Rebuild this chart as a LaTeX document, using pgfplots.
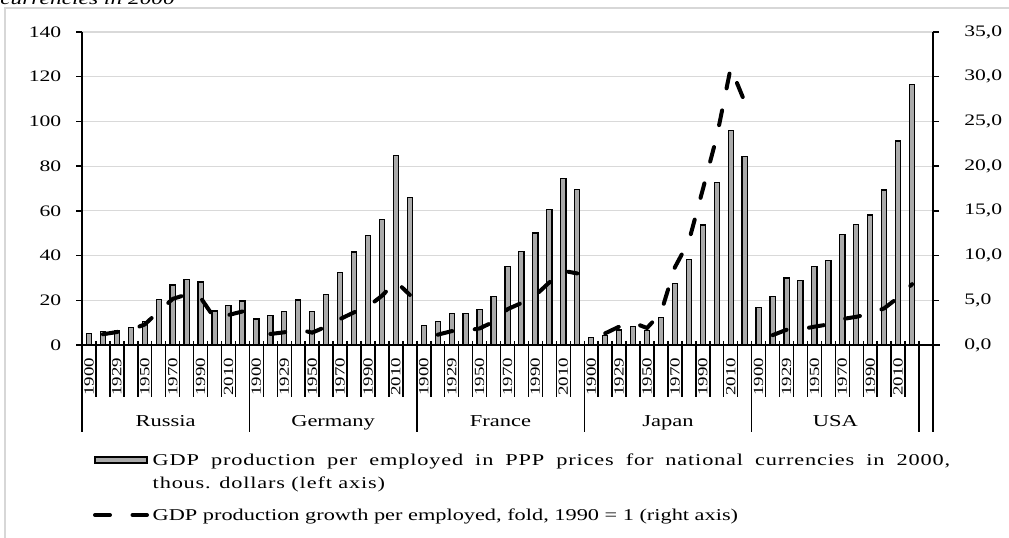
\documentclass[border=0pt]{standalone}
\usepackage{fontspec}
\setmainfont{Liberation Serif}[FakeStretch=1.35]
\usepackage{pgfplots}
\usepackage{pgfplotstable}
\pgfplotsset{compat=1.18}
\definecolor{barfill}{RGB}{170,170,170}
\definecolor{gridgray}{RGB}{217,217,217}
\definecolor{framegray}{RGB}{215,215,215}

\pgfplotstableread{
x y
0 5.2
1 5.9
2 6.6
3 7.9
4 10.6
5 20.5
6 26.8
7 29.4
8 28.2
9 15.2
10 17.7
11 19.7
12 11.6
13 13.1
14 14.9
15 20.1
16 14.9
17 22.5
18 32.5
19 41.6
20 49.0
21 56.0
22 84.9
23 65.8
24 8.7
25 10.4
26 14.2
27 14.2
28 15.7
29 21.6
30 35.2
31 41.8
32 50.1
33 60.7
34 74.5
35 69.7
36 3.3
37 4.4
38 6.7
39 8.2
40 6.4
41 12.2
42 27.6
43 38.1
44 53.7
45 72.7
46 95.8
47 84.3
48 16.6
49 21.6
50 30.0
51 28.7
52 35.2
53 37.9
54 49.3
55 53.9
56 58.1
57 69.3
58 91.2
59 116.4
}\bartable

\pgfplotstableread{
x y
1 1.2
2 1.45
3 1.7
4 2.3
5 3.75
6 5.15
7 5.65
8 5.3
9 3.0
10 3.35
11 3.75
}\lineRU
\pgfplotstableread{
x y
13 1.23
14 1.42
15 1.75
16 1.38
17 2.05
18 2.9
19 3.65
20 4.3
21 5.5
22 7.1
23 5.6
}\lineDE
\pgfplotstableread{
x y
25 1.15
26 1.55
27 1.6
28 1.85
29 2.6
30 4.0
31 4.7
32 5.55
33 7.0
34 8.3
35 8.0
}\lineFR
\pgfplotstableread{
x y
37 1.3
38 2.05
39 2.5
40 1.9
41 3.6
42 8.7
43 11.6
44 17.4
45 23.3
46 31.0
47 27.2
}\lineJP
\pgfplotstableread{
x y
49 1.1
50 1.7
51 1.75
52 2.05
53 2.3
54 2.9
55 3.15
56 3.5
57 4.1
58 5.3
59 6.8
}\lineUS

\newcommand{\tickfont}{\fontsize{12}{14}\selectfont}
\newcommand{\legfont}{\fontsize{12.4}{14}\selectfont}
\newcommand{\yearfont}{\fontsize{10.5}{12}\selectfont}
\newcommand{\ctryfont}{\fontsize{12.5}{14}\selectfont}

\tikzset{dashline/.style={black, line width=3pt, line cap=round, dash pattern=on 11.25pt off 16.9pt}}

\pgfplotsset{
  base/.style={
    at={(61.5pt,144.75pt)}, anchor=south west,
    scale only axis, width=638.25pt, height=234.75pt,
    xmin=-0.5, xmax=60.5, xtick=\empty,
    axis x line=none,
    tick align=outside, major tick length=4.5pt,
    axis line style={line width=1.1pt, black},
    every tick/.style={line width=1.1pt, black},
    tick label style={font=\tickfont},
    /pgf/number format/assume math mode=true,
    clip=false,
  },
}

\begin{document}
\begin{tikzpicture}
\useasboundingbox (0,0) rectangle (756.75pt,403.5pt);

\begin{scope}[x=0.75pt,y=-0.75pt,shift={(0,403.5pt)}]
  \draw[framegray, line width=1pt] (5,550) -- (5,8) -- (1020,8);
  \node[anchor=base west, inner sep=0, font=\itshape\fontsize{13}{15}\selectfont] at (0,5) {currencies in 2000};
\end{scope}

\begin{axis}[base,
  ymin=0, ymax=140, ytick={0,20,...,140},
  axis y line*=left,
  ymajorgrids, grid style={gridgray, line width=0.9pt},
  ybar, bar width=3.9pt,
  yticklabel style={xshift=-7.5pt},
]
\addplot[ybar, fill=barfill, draw=black, line width=0.9pt, bar width=3.9pt] table[x=x,y=y] {\bartable};
\end{axis}

\begin{axis}[base,
  ymin=0, ymax=35, ytick={0,5,...,35},
  axis y line*=right,
  yticklabel style={xshift=15.5pt, /pgf/number format/fixed, /pgf/number format/fixed zerofill, /pgf/number format/precision=1, /pgf/number format/use comma},
]
\addplot[dashline] table[x=x,y=y] {\lineRU};
\addplot[dashline] table[x=x,y=y] {\lineDE};
\addplot[dashline] table[x=x,y=y] {\lineFR};
\addplot[dashline] table[x=x,y=y] {\lineJP};
\addplot[dashline] table[x=x,y=y] {\lineUS};
\end{axis}

\begin{scope}[x=0.75pt,y=-0.75pt,shift={(0,403.5pt)}, line width=1.1pt]
  \draw (82,345) -- (940,345);
  \foreach \k in {0,...,60} {
    \pgfmathsetmacro\xx{82+13.9508*\k}
    \draw (\xx,341) -- (\xx,397);
  }
  \foreach \k in {0,12,24,36,48,60} {
    \pgfmathsetmacro\xx{82+13.9508*\k}
    \draw (\xx,341) -- (\xx,432);
  }
  \draw (933,345) -- (933,432);
  \foreach \g in {0,...,4} {
    \foreach \j/\yr in {0/1900,2/1929,4/1950,6/1970,8/1990,10/2010} {
      \pgfmathsetmacro\xx{82+13.9508*(12*\g+\j+0.5)}
      \node[rotate=90, inner sep=0, font=\yearfont] at (\xx,377) {\yr};
    }
  }
  \foreach \g/\c in {0/Russia,1/Germany,2/France,3/Japan,4/USA} {
    \pgfmathsetmacro\xx{82+13.9508*(12*\g+6)}
    \node[anchor=base, inner sep=0, font=\ctryfont] at (\xx,427) {\c};
  }
  % legend
  \draw[fill=barfill, line width=0.9pt] (95,457) rectangle (147,463);
  \node[anchor=base west, inner sep=0, font=\legfont] at (152,466) {\addfontfeature{LetterSpace=5}\makebox[598pt][s]{GDP production per employed in PPP prices for national currencies in 2000,}};
  \node[anchor=base west, inner sep=0, font=\legfont] at (152,489) {\addfontfeature{LetterSpace=5}thous. dollars (left axis)};
  \draw[dashline] (95,515) -- (147,515);
  \node[anchor=base west, inner sep=0, font=\legfont] at (152,521) {GDP production growth per employed, fold, 1990 = 1 (right axis)};
\end{scope}
\end{tikzpicture}
\end{document}
